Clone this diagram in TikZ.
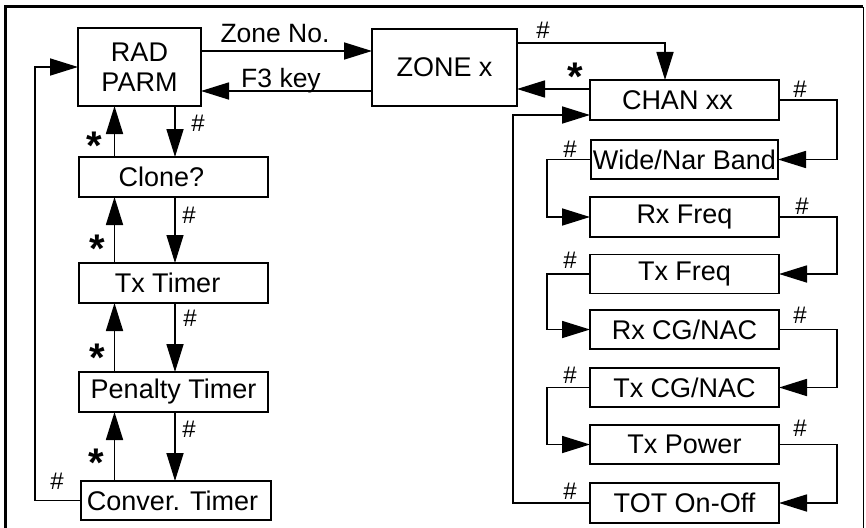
\documentclass[tikz,border=0pt]{standalone}
\usepackage{fontspec}
\setmainfont{Liberation Sans}
\usetikzlibrary{arrows.meta,calc}
\begin{document}
\begin{tikzpicture}[x=1pt,y=-1pt,
  box/.style={draw,line width=1.8pt,rectangle,inner sep=0pt,outer sep=0pt,
    font=\fontsize{27}{30}\selectfont,align=center},
  conn/.style={line width=1.7pt,-{Triangle[length=28pt,width=17pt]}},
  hlab/.style={font=\fontsize{24}{26}\selectfont,inner sep=0pt},
  slab/.style={font=\fontsize{40}{40}\selectfont\bfseries,inner sep=0pt,
    text height=29pt,text depth=-15pt},
  tlab/.style={font=\fontsize{26.5}{28}\selectfont,inner sep=0pt,anchor=base}]
\useasboundingbox (0,0) rectangle (866,527);
% frame
\draw[line width=3pt] (5.5,535) -- (5.5,7) -- (863,7);
\draw[line width=1.5pt] (863.5,7) -- (863.5,535);
% left column
\node[box,minimum width=123pt,minimum height=78pt] (rad) at (139.5,67) {RAD\\PARM};
\node[box,minimum width=145pt,minimum height=77pt] (zone) at (444.5,67.5) {ZONE x};
\node[box,minimum width=189pt,minimum height=40pt] (clone) at (173.5,177) {\hspace*{-24pt}Clone?};
\node[box,minimum width=189pt,minimum height=40pt] (txt) at (173.5,283) {\hspace*{-12pt}Tx Timer};
\node[box,minimum width=189pt,minimum height=40pt] (pen) at (173.5,392) {Penalty Timer};
\node[box,minimum width=190pt,minimum height=39pt] (conv) at (176,500.5) {\hspace*{-7pt}Conver. Timer};
% right column
\node[box,minimum width=189pt,minimum height=40pt] (chan) at (684.5,100) {\hspace*{-14pt}CHAN xx};
\node[box,minimum width=187pt,minimum height=39pt] (wide) at (684.5,159.5) {Wide/Nar Band};
\node[box,minimum width=189pt,minimum height=40pt] (rxf) at (684.5,217) {Rx Freq};
\node[box,minimum width=189pt,minimum height=39pt] (txf) at (684.5,274) {Tx Freq};
\node[box,minimum width=189pt,minimum height=39pt] (rxcg) at (684.5,329.5) {Rx CG/NAC};
\node[box,minimum width=189pt,minimum height=39pt] (txcg) at (684.5,387.5) {Tx CG/NAC};
\node[box,minimum width=189pt,minimum height=39pt] (txp) at (684.5,444.5) {Tx Power};
\node[box,minimum width=189pt,minimum height=40pt] (tot) at (684.5,503) {TOT On-Off};
% helper coordinates
\coordinate (dn) at (175,0);
\coordinate (up) at (114.5,0);
\coordinate (lx) at (35,0);
\coordinate (zn) at (0,51);
\coordinate (fk) at (0,91);
\coordinate (zc) at (665,43);
\coordinate (cz) at (0,89);
\coordinate (rx) at (837,0);
\coordinate (lx2) at (547,0);
\coordinate (cin) at (513,115);
% top connectors
\draw[conn] (rad.east |- zn) -- (zone.west |- zn);
\draw[conn] (zone.west |- fk) -- (rad.east |- fk);
\node[tlab] at (275,43) {Zone No.};
\node[tlab] at (281,87) {F3 key};
% left vertical connectors
\draw[conn] (rad.south -| dn) -- (clone.north -| dn);
\draw[conn] (clone.north -| up) -- (rad.south -| up);
\draw[conn,line width=1.2pt] (clone.south -| dn) -- (txt.north -| dn);
\draw[conn] (txt.north -| up) -- (clone.south -| up);
\draw[conn] (txt.south -| dn) -- (pen.north -| dn);
\draw[conn] (pen.north -| up) -- (txt.south -| up);
\draw[conn] (pen.south -| dn) -- (conv.north -| dn);
\draw[conn] (conv.north -| up) -- (pen.south -| up);
\draw[conn] (conv.west) -- (lx |- conv.west) |- (rad.west);
\node[hlab] at (198,123) {\#};
\node[hlab] at (189,215) {\#};
\node[hlab] at (190,318) {\#};
\node[hlab] at (189,429) {\#};
\node[hlab] at (57,481) {\#};
\node[slab] at (94,145) {*};
\node[slab] at (97,248) {*};
\node[slab] at (97,357) {*};
\node[slab] at (96,462) {*};
% zone / chan
\draw[conn] (zone.east |- zc) -| (chan.north -| zc);
\draw[conn] (chan.west |- cz) -- (zone.east |- cz);
\node[hlab] at (543,30) {\#};
\node[slab] at (575,76) {*};
% right chain
\draw[conn] (chan.east) -- (chan.east -| rx) |- (wide.east);
\draw[conn] (wide.west) -- (wide.west -| lx2) |- (rxf.west);
\draw[conn] (rxf.east) -- (rxf.east -| rx) |- (txf.east);
\draw[conn] (txf.west) -- (txf.west -| lx2) |- (rxcg.west);
\draw[conn] (rxcg.east) -- (rxcg.east -| rx) |- (txcg.east);
\draw[conn] (txcg.west) -- (txcg.west -| lx2) |- (txp.west);
\draw[conn] (txp.east) -- (txp.east -| rx) |- (tot.east);
\draw[conn] (tot.west) -| (cin) -- (cin -| chan.west);
\node[hlab] at (800,89) {\#};
\node[hlab] at (570,149) {\#};
\node[hlab] at (802,206) {\#};
\node[hlab] at (570,260) {\#};
\node[hlab] at (800,315) {\#};
\node[hlab] at (570,375) {\#};
\node[hlab] at (800,428) {\#};
\node[hlab] at (570,491) {\#};
\end{tikzpicture}
\end{document}
